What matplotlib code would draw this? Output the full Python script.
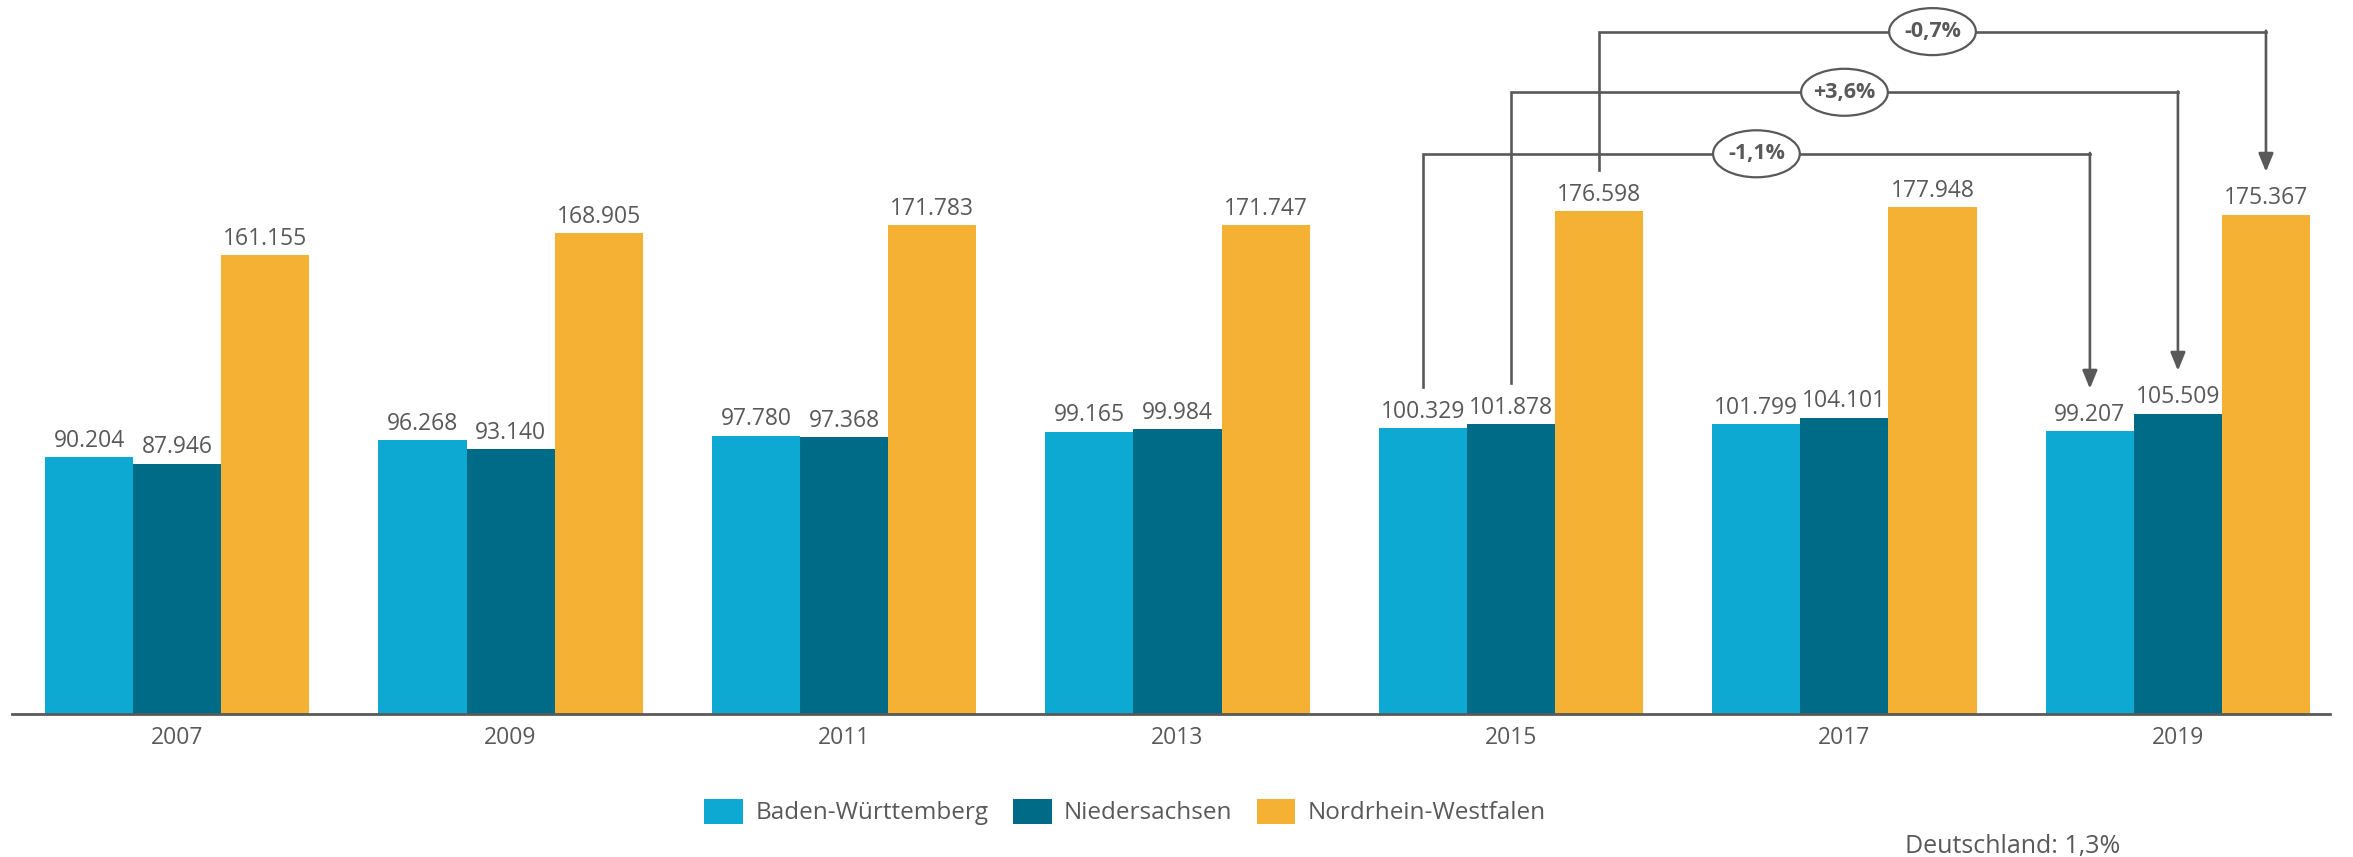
import numpy as np
import matplotlib
matplotlib.use("Agg")
import matplotlib.pyplot as plt
from matplotlib.patches import Ellipse, Patch

# data (Tsd.)
years = ['2007', '2009', '2011', '2013', '2015', '2017', '2019']
bw = [90.204, 96.268, 97.780, 99.165, 100.329, 101.799, 99.207]
ns = [87.946, 93.140, 97.368, 99.984, 101.878, 104.101, 105.509]
nrw = [161.155, 168.905, 171.783, 171.747, 176.598, 177.948, 175.367]
series_names = ['Baden-Württemberg', 'Niedersachsen', 'Nordrhein-Westfalen']
colors = ['#0EA9D2', '#006B87', '#F5B133']

# change 2015 -> 2019 per series
changes = ['-1,1%', '+3,6%', '-0,7%']
change_levels = [196.7, 218.3, 239.6]
note = 'Deutschland: 1,3%'

TXT = '#595959'
plt.rcParams['font.family'] = ['Open Sans', 'DejaVu Sans']

fig = plt.figure(figsize=(23.53, 8.57), dpi=100)
ax = fig.add_axes([12 / 2353, 143 / 857, (2330 - 12) / 2353, 714 / 857])

x = np.arange(len(years))
w = 0.264
series = [bw, ns, nrw]
for i, (vals, c) in enumerate(zip(series, colors)):
    xs = x + (i - 1) * w
    ax.bar(xs, vals, width=w, color=c, label=series_names[i], linewidth=0)
    for xi, v in zip(xs, vals):
        ax.annotate(f'{v:.3f}', (xi, v), xytext=(0, 3), textcoords='offset points',
                    ha='center', va='bottom', fontsize=16.5, color=TXT)

# change arrows 2015 -> 2019
i0, i1 = years.index('2015'), years.index('2019')
for k, (lab, lvl) in enumerate(zip(changes, change_levels)):
    vals = series[k]
    x0 = i0 + (k - 1) * w
    x1 = i1 + (k - 1) * w
    ax.plot([x0, x0, x1], [vals[i0] + 14.5, lvl, lvl], color=TXT, lw=1.9,
            solid_joinstyle='miter', clip_on=False, zorder=3 + k)
    ax.annotate('', xy=(x1, vals[i1] + 15), xytext=(x1, lvl + 0.3),
                arrowprops=dict(arrowstyle='-|>,head_length=1.1,head_width=0.45',
                                color=TXT, lw=1.9, shrinkA=0, shrinkB=0),
                zorder=3 + k)
    xm = (x0 + x1) / 2
    ax.add_patch(Ellipse((xm, lvl), 0.26, 16.5, facecolor='white', edgecolor=TXT,
                         lw=1.6, zorder=3 + k, clip_on=False))
    ax.text(xm, lvl, lab, ha='center', va='center', fontsize=15.5, fontweight='bold',
            color=TXT, zorder=3 + k)

ax.set_xlim(-0.495, 6.456)
ax.set_ylim(0, 250.7)
ax.set_xticks(x)
ax.set_xticklabels(years, fontsize=16.5, color=TXT)
ax.tick_params(axis='x', length=0, pad=9)
ax.set_yticks([])
for s in ['top', 'left', 'right']:
    ax.spines[s].set_visible(False)
ax.spines['bottom'].set_color(TXT)
ax.spines['bottom'].set_linewidth(2)

handles = [Patch(facecolor=c, edgecolor='none') for c in colors]
fig.legend(handles, series_names, loc='center', bbox_to_anchor=(1125 / 2353, 45 / 857),
           ncol=3, frameon=False, fontsize=17.5, labelcolor=TXT, handlelength=1.6,
           handleheight=1.2, handletextpad=0.5, columnspacing=1.0)

fig.text(2013 / 2353, 11 / 857, note, ha='center', va='center', fontsize=18, color=TXT)

fig.savefig('out.png', dpi=100)
